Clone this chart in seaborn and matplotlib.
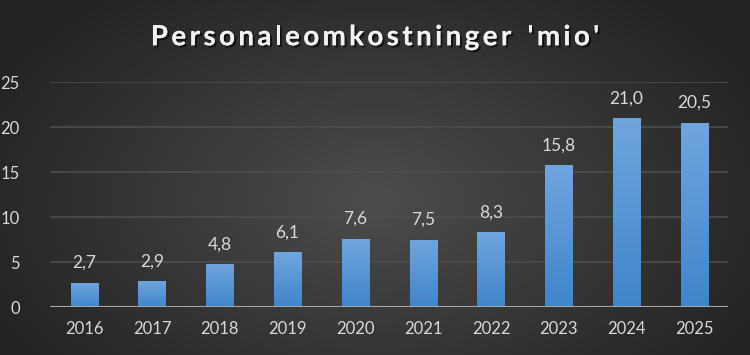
import numpy as np
import pandas as pd
import matplotlib
matplotlib.use("Agg")
import matplotlib.pyplot as plt
import matplotlib.patheffects as pe
import seaborn as sns

# data
years = ["2016", "2017", "2018", "2019", "2020", "2021", "2022", "2023", "2024", "2025"]
costs = [2.7, 2.9, 4.8, 6.1, 7.6, 7.5, 8.3, 15.8, 21.0, 20.5]
y_ticks = [0, 5, 10, 15, 20, 25]
title = "Personaleomkostninger 'mio'"

df = pd.DataFrame({"year": years, "cost": costs})

sns.set_style("dark")
plt.rcParams["font.family"] = ["Lato", "DejaVu Sans"]

fig = plt.figure(figsize=(7.5, 3.55), dpi=100)

# radial gradient background
bg = fig.add_axes([0, 0, 1, 1], zorder=-10)
yy, xx = np.mgrid[0:355, 0:750]
r = np.sqrt(((xx - 375) / 420.0) ** 2 + ((yy - 200) / 260.0) ** 2)
shade = np.clip(0.30 - 0.16 * r, 0.14, 0.30)
bg.imshow(np.dstack([shade, shade, shade]), aspect="auto", extent=[0, 1, 0, 1])
bg.axis("off")

ax = fig.add_axes([0.067, 0.135, 0.904, 0.634])
ax.patch.set_alpha(0)
sns.barplot(data=df, x="year", y="cost", color="#5b9bd5", width=0.4, ax=ax)

# vertical gradient on bars
grad = np.linspace(0, 1, 100).reshape(-1, 1, 1)
top = np.array([0.44, 0.65, 0.87])
bottom = np.array([0.25, 0.52, 0.79])
img = bottom + (top - bottom) * grad
for p in ax.patches:
    x0, y0 = p.get_x(), p.get_y()
    w, h = p.get_width(), p.get_height()
    im = ax.imshow(img, extent=[x0, x0 + w, y0, y0 + h], origin="lower",
                   aspect="auto", zorder=3)
    im.set_clip_path(p)
    p.set_alpha(0)

for i, v in enumerate(costs):
    ax.text(i, v + 1.3, f"{v:.1f}".replace(".", ","), ha="center", va="bottom",
            color="#d9d9d9", fontsize=12.5)

ax.set_xlim(-0.5, len(years) - 0.5)
ax.set_ylim(0, 25)
ax.set_yticks(y_ticks)
ax.set_yticklabels([str(t) for t in y_ticks])
ax.grid(axis="y", color="#4d4d4d", linewidth=1.2)
ax.set_axisbelow(True)
ax.axhline(0, color="#a6a6a6", linewidth=1.5, zorder=4)
for s in ax.spines.values():
    s.set_visible(False)
ax.tick_params(axis="both", colors="#d9d9d9", labelsize=12, length=0)
ax.tick_params(axis="x", pad=10)
ax.tick_params(axis="y", pad=22)
ax.set_xlabel("")
ax.set_ylabel("")

# title with extra letter spacing
renderer = fig.canvas.get_renderer()
shadow = [pe.withSimplePatchShadow(offset=(1.5, -1.5), shadow_rgbFace="black", alpha=0.6), pe.Normal()]
kw = dict(color="#f2f2f2", fontsize=20, fontweight="bold", va="center", ha="left",
          path_effects=shadow)
spacing = 3.4  # px between letters
widths = []
for ch in title:
    t = fig.text(0, 0, ch if ch != " " else "n", **kw)
    widths.append(t.get_window_extent(renderer).width * (0.6 if ch == " " else 1.0))
    t.remove()
total = sum(widths) + spacing * (len(title) - 1)
x = 375 - total / 2
for ch, w in zip(title, widths):
    if ch != " ":
        fig.text(x / 750, 0.895, ch, **kw)
    x += w + spacing

fig.savefig("out.png", dpi=100)
